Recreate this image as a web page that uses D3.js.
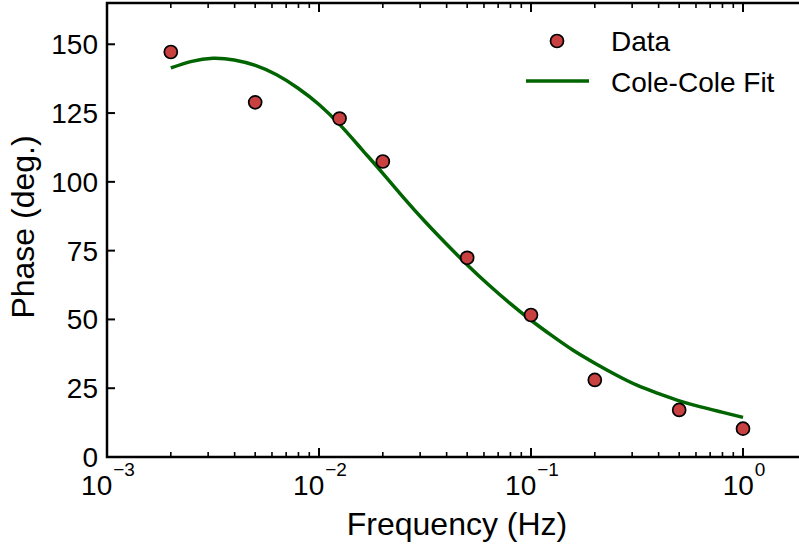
<!DOCTYPE html>
<html lang="en">
<head>
	<meta charset="UTF-8"/>
	<title>Phase vs Frequency</title>
	<!-- Include D3.js library -->
	<script src="https://d3js.org/d3.v7.min.js"></script>
	<style>
		body { margin: 0; background: white; }
		svg { display: block; font-family: "Liberation Sans", Arial, sans-serif; }
	</style>
</head>
<body>
	<script>
		// Measured data points: [frequency (Hz), phase (deg.)]
		var dataFreq  = [0.002, 0.005, 0.0125, 0.02, 0.05, 0.1, 0.2, 0.5, 1.0];
		var dataPhase = [147.2, 128.9, 123.0, 107.4, 72.4, 51.6, 28.0, 17.1, 10.3];

		// Cole-Cole fit
		var fitFreq  = [0.002, 0.00251, 0.00316, 0.00398, 0.00501, 0.00631, 0.00794, 0.01, 0.0126, 0.0158,
		                0.02, 0.0251, 0.0316, 0.0398, 0.0501, 0.0631, 0.0794, 0.1, 0.126, 0.158,
		                0.2, 0.251, 0.316, 0.398, 0.501, 0.631, 0.794, 1.0];
		var fitPhase = [141.4, 143.8, 144.9, 144.3, 142.3, 138.9, 134.1, 128.1, 120.6, 112.1,
		                103.1, 94.2, 85.6, 77.5, 69.8, 62.6, 55.9, 49.7, 44.0, 38.8,
		                34.1, 29.9, 26.1, 23.1, 20.4, 18.2, 16.3, 14.4];

		// Tick values
		var yTicks = [0, 25, 50, 75, 100, 125, 150];
		var xDecades = [-3, -2, -1, 0];

		var w = 799;
		var h = 548;
		var plotLeft = 107, plotTop = 3, plotBottom = 457;
		var decade = 212; // pixels per decade

		// Log x-scale, runs past the right edge of the picture
		var xScale = d3.scaleLog()
						.domain([1e-3, 2])
						.range([plotLeft, plotLeft + decade * Math.log10(2000)]);
		var plotRight = xScale(2);

		var yScale = d3.scaleLinear()
						.domain([0, 165])
						.range([plotBottom, plotTop]);

		var svg = d3.select("body")
					.append("svg")
					.attr("width", w)
					.attr("height", h);

		// Minor tick values (2..9 x each decade)
		var minorTicks = [];
		xDecades.forEach(function(e) {
			for (var k = 2; k <= 9; k++) {
				var v = k * Math.pow(10, e);
				if (v <= 2) minorTicks.push(v);
			}
		});
		var majorTicks = xDecades.map(function(e) { return Math.pow(10, e); });

		var ticks = svg.append("g")
					.attr("stroke", "black");

		// Bottom and top ticks, pointing inward
		[plotBottom, plotTop].forEach(function(y0) {
			var dir = (y0 == plotBottom) ? -1 : 1;
			ticks.selectAll(null)
				.data(majorTicks)
				.enter()
				.append("line")
				.attr("x1", function(d) { return xScale(d); })
				.attr("x2", function(d) { return xScale(d); })
				.attr("y1", y0)
				.attr("y2", y0 + dir * 9)
				.attr("stroke-width", 2);
			ticks.selectAll(null)
				.data(minorTicks)
				.enter()
				.append("line")
				.attr("x1", function(d) { return xScale(d); })
				.attr("x2", function(d) { return xScale(d); })
				.attr("y1", y0)
				.attr("y2", y0 + dir * 5)
				.attr("stroke-width", 1.6);
		});

		// Left ticks
		ticks.selectAll(null)
			.data(yTicks)
			.enter()
			.append("line")
			.attr("x1", plotLeft)
			.attr("x2", plotLeft + 8)
			.attr("y1", function(d) { return yScale(d); })
			.attr("y2", function(d) { return yScale(d); })
			.attr("stroke-width", 2);

		// Spines
		svg.append("path")
			.attr("d", "M" + plotRight + "," + plotTop + "H" + plotLeft + "V" + plotBottom + "H" + plotRight)
			.attr("fill", "none")
			.attr("stroke", "black")
			.attr("stroke-width", 2.5);

		// Y tick labels
		svg.selectAll("text.ylab")
			.data(yTicks)
			.enter()
			.append("text")
			.attr("class", "ylab")
			.attr("x", plotLeft - 9)
			.attr("y", function(d) { return yScale(d) + 10; })
			.attr("text-anchor", "end")
			.attr("font-size", "28px")
			.text(function(d) { return d; });

		// X tick labels, 10 with superscript exponent
		var xl = svg.selectAll("text.xlab")
			.data(xDecades)
			.enter()
			.append("text")
			.attr("class", "xlab")
			.attr("x", function(d) { return xScale(Math.pow(10, d)) + 1; })
			.attr("y", 495)
			.attr("text-anchor", "middle")
			.attr("font-size", "28px");
		xl.append("tspan").text("10");
		xl.append("tspan")
			.attr("dy", -19)
			.attr("dx", 1)
			.attr("font-size", "19px")
			.text(function(d) { return d < 0 ? "\u2212" + (-d) : d; });

		// Axis titles
		svg.append("text")
			.attr("x", 457)
			.attr("y", 535)
			.attr("text-anchor", "middle")
			.attr("font-size", "32px")
			.text("Frequency (Hz)");

		svg.append("text")
			.attr("transform", "rotate(-90)")
			.attr("x", -227)
			.attr("y", 34)
			.attr("text-anchor", "middle")
			.attr("font-size", "32px")
			.text("Phase (deg.)");

		// Fit line
		var fitData = fitFreq.map(function(f, i) { return [f, fitPhase[i]]; });
		var line = d3.line()
					.x(function(d) { return xScale(d[0]); })
					.y(function(d) { return yScale(d[1]); })
					.curve(d3.curveNatural);

		svg.append("path")
			.datum(fitData)
			.attr("d", line)
			.attr("fill", "none")
			.attr("stroke", "#006400")
			.attr("stroke-width", 3.5);

		// Data points
		var points = dataFreq.map(function(f, i) { return [f, dataPhase[i]]; });
		svg.selectAll("circle.pt")
			.data(points)
			.enter()
			.append("circle")
			.attr("class", "pt")
			.attr("cx", function(d) { return xScale(d[0]); })
			.attr("cy", function(d) { return yScale(d[1]); })
			.attr("r", 6.5)
			.attr("fill", "#c84040")
			.attr("stroke", "black")
			.attr("stroke-width", 1.7);

		// Legend
		var legend = svg.append("g");
		legend.append("circle")
			.attr("cx", 557)
			.attr("cy", 41)
			.attr("r", 6.5)
			.attr("fill", "#c84040")
			.attr("stroke", "black")
			.attr("stroke-width", 1.7);
		legend.append("text")
			.attr("x", 611)
			.attr("y", 51)
			.attr("font-size", "28px")
			.text("Data");
		legend.append("line")
			.attr("x1", 526)
			.attr("x2", 589)
			.attr("y1", 81)
			.attr("y2", 81)
			.attr("stroke", "#006400")
			.attr("stroke-width", 3.5);
		legend.append("text")
			.attr("x", 611)
			.attr("y", 92)
			.attr("font-size", "28px")
			.text("Cole-Cole Fit");
	</script>
</body>
</html>
